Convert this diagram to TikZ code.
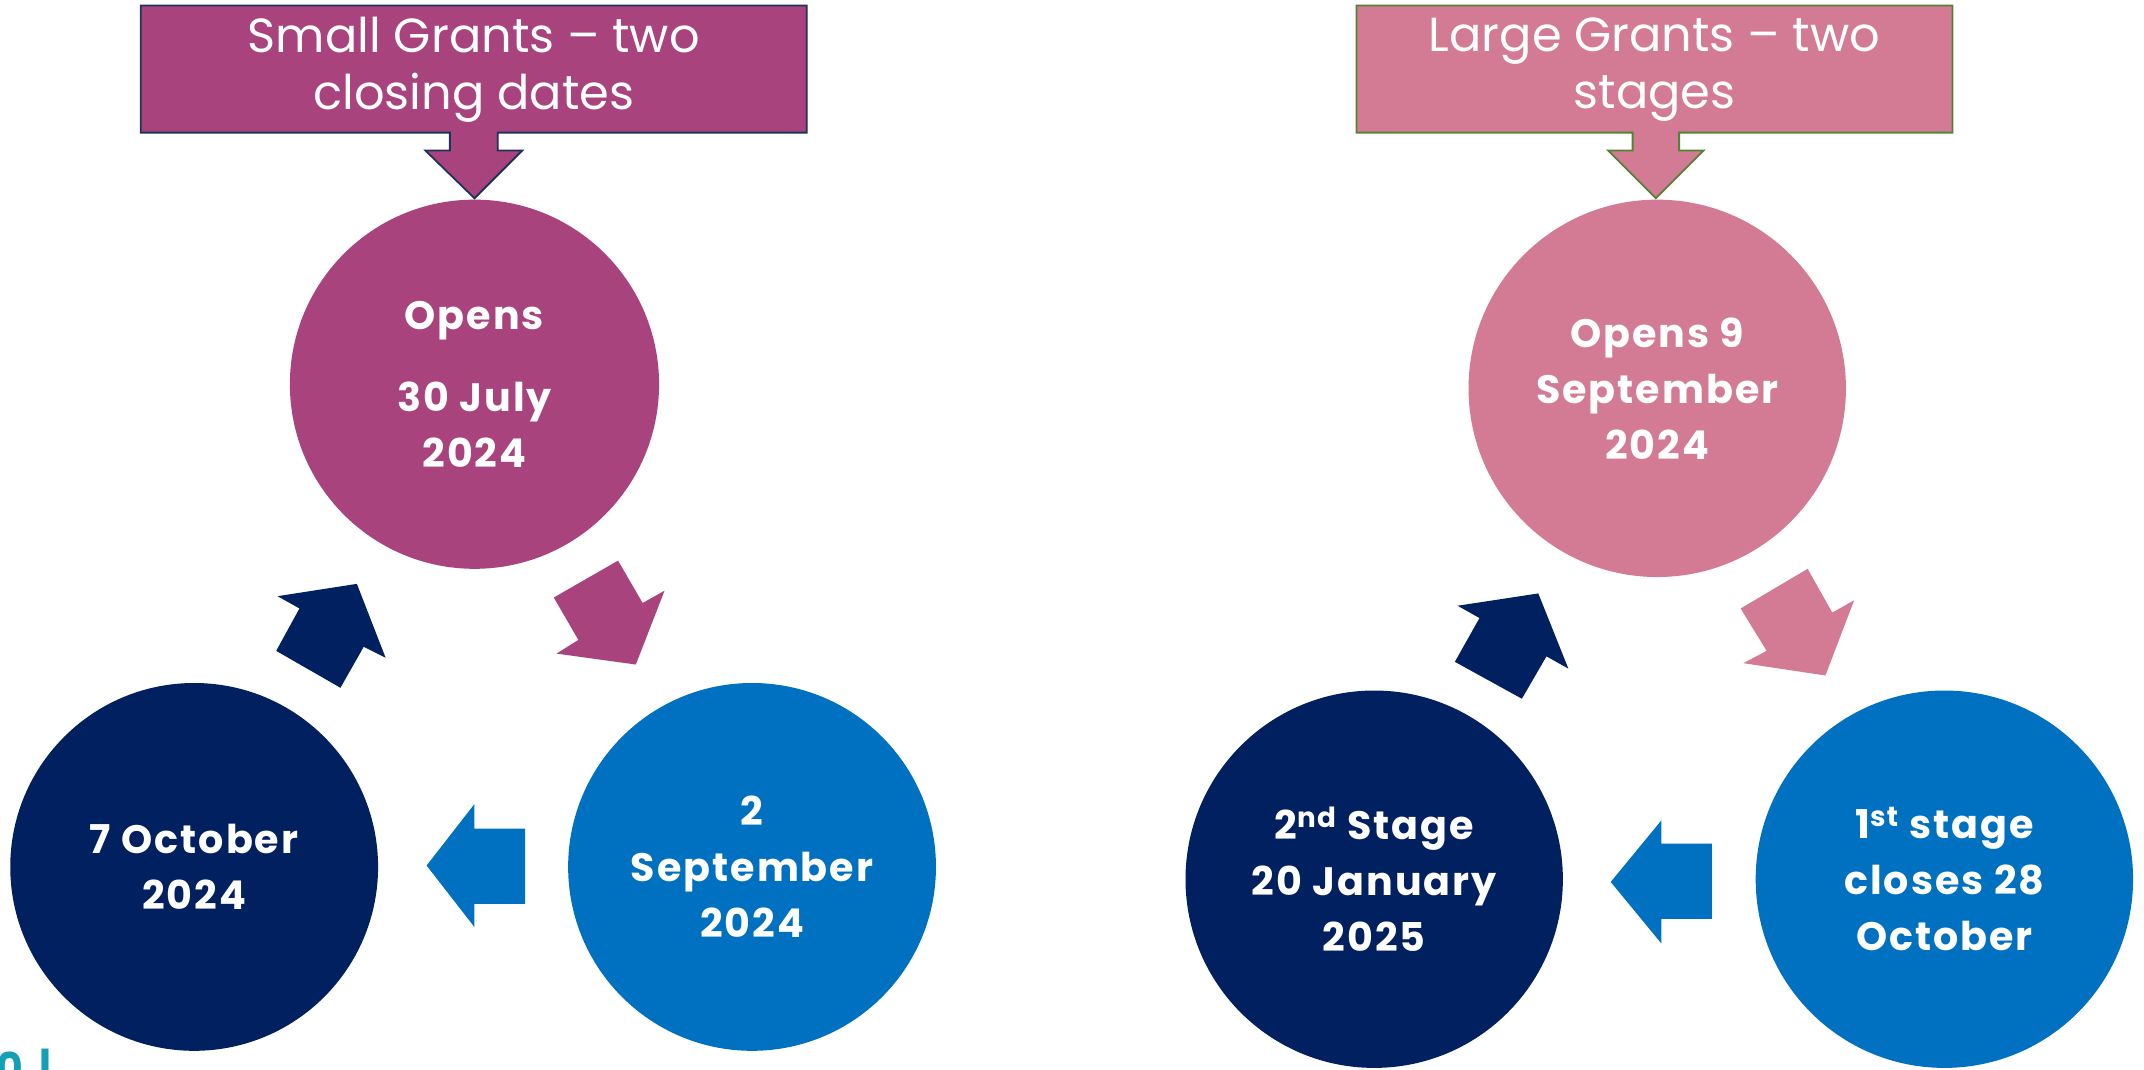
\documentclass[tikz,border=0pt]{standalone}
\usepackage{fontspec}
\setmainfont{Poppins}
\definecolor{smag}{RGB}{168,67,126}
\definecolor{lpink}{RGB}{211,123,148}
\definecolor{navy}{RGB}{0,32,96}
\definecolor{mblue}{RGB}{0,112,192}
\definecolor{sborder}{RGB}{31,50,90}
\definecolor{lborder}{RGB}{84,130,53}
\definecolor{footteal}{RGB}{20,160,180}
\tikzset{
  circtext/.style={circle, inner sep=0pt, text=white, align=center,
    font=\fontsize{29}{41}\selectfont\bfseries\addfontfeatures{LetterSpace=5}},
  titletext/.style={text=white, align=center, inner sep=0pt,
    font=\fontsize{35}{42}\selectfont},
  callout/.style={line width=1.3pt, line join=miter},
  blockarrow/.style={draw=none}
}
\begin{document}
\begin{tikzpicture}[x=1pt,y=-1pt]
\useasboundingbox (0,0) rectangle (1568,782);
\fill[white] (0,0) rectangle (1568,782);

% ---------- Small grants ----------
\draw[callout, fill=smag, draw=sborder]
  (103,4) -- (590,4) -- (590,97) -- (364,97) -- (364,110) -- (382,110)
  -- (347,145) -- (311,110) -- (329,110) -- (329,97) -- (103,97) -- cycle;
\node[titletext] (stitle) at (346.5,51) {Small Grants – two\\closing dates};

\node[circtext, fill=smag, minimum size=270pt] (sopen) at (347,281)
  {Opens\\[19pt]30 July\\2024};
\node[circtext, fill=navy, minimum size=269pt] (sclose2) at (142,634)
  {7 October\\2024};
\node[circtext, fill=mblue, minimum size=269pt] (sclose1) at (550,634)
  {2\\September\\2024};

\fill[blockarrow, smag] (405,437) -- (452,410) -- (470,441) -- (486,432)
  -- (465,486) -- (407,478) -- (423,468) -- cycle;
\fill[blockarrow, navy] (203,436) -- (261,427) -- (282,481) -- (266,473)
  -- (249,503) -- (202,476) -- (219,445) -- cycle;
\fill[blockarrow, mblue] (312,633) -- (347,588) -- (347,606) -- (384,606)
  -- (384,661) -- (347,661) -- (347,678) -- cycle;

% ---------- Large grants ----------
\draw[callout, fill=lpink, draw=lborder]
  (992,4) -- (1428,4) -- (1428,97) -- (1228,97) -- (1228,110) -- (1246,110)
  -- (1211,145) -- (1176,110) -- (1194,110) -- (1194,97) -- (992,97) -- cycle;
\node[titletext] (ltitle) at (1210,51) {Large Grants – two\\stages};

\node[circtext, fill=lpink, minimum size=276pt] (lopen) at (1212,284)
  {Opens 9\\September\\2024};
\node[circtext, fill=navy, minimum size=276pt] (lstage2) at (1005,643)
  {2\textsuperscript{nd} Stage\\20 January\\2025};
\node[circtext, fill=mblue, minimum size=276pt] (lstage1) at (1422,643)
  {1\textsuperscript{st} stage\\closes 28\\October};

\fill[blockarrow, lpink] (1273,445) -- (1322,416) -- (1340,448) -- (1356,439)
  -- (1335,494) -- (1275,485) -- (1292,476) -- cycle;
\fill[blockarrow, navy] (1066,443) -- (1125,434) -- (1147,489) -- (1131,480)
  -- (1113,511) -- (1064,484) -- (1082,452) -- cycle;
\fill[blockarrow, mblue] (1178,645) -- (1215,600) -- (1215,617) -- (1252,617)
  -- (1252,672) -- (1215,672) -- (1215,690) -- cycle;

% ---------- footer fragment ----------
\begin{scope}
\clip (0,0) rectangle (1568,782);
\node[anchor=north west, inner sep=0pt, text=footteal,
  font=\bfseries\fontsize{30}{30}\selectfont] (foot) at (-3,767) {0\hspace{12pt}|};
\end{scope}
\end{tikzpicture}
\end{document}
